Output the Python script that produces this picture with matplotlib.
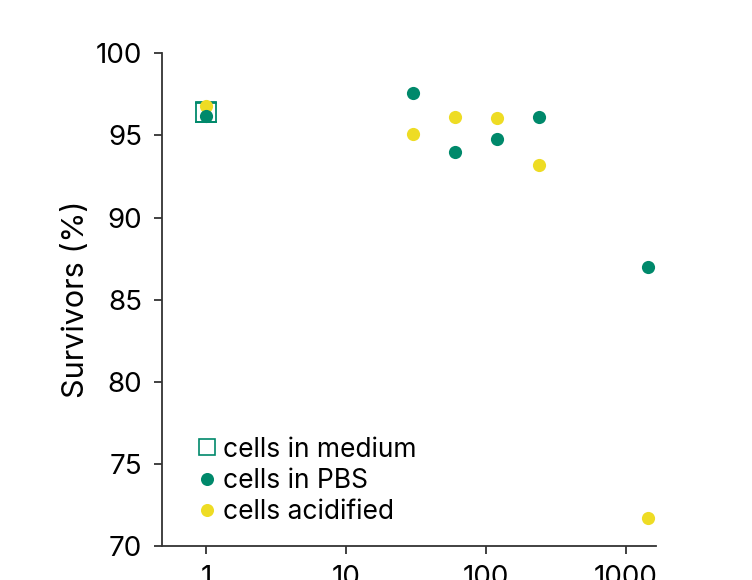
import numpy as np
import matplotlib.pyplot as plt
from matplotlib.lines import Line2D

plt.rcParams['font.family'] = ['Inter', 'DejaVu Sans']

# values
medium_time = [1]
medium_surv = [96.4]
medium_err = [0.6]

pbs_time = [1, 30, 60, 120, 240, 1440]
pbs_surv = [96.2, 97.6, 94.0, 94.8, 96.1, 87.0]

acid_time = [1, 30, 60, 120, 240, 1440]
acid_surv = [96.8, 95.1, 96.1, 96.05, 93.2, 71.7]

green = '#00896b'
yellow = '#eedc24'

fig = plt.figure(figsize=(7.52, 5.8), dpi=100)
ax = fig.add_axes([0.215, 0.0586, 0.658, 0.8494])

ax.errorbar(medium_time, medium_surv, yerr=medium_err, fmt='s', ms=14,
            mfc='none', mec=green, mew=1.3, ecolor=green, elinewidth=1.2,
            capsize=8, capthick=1.2, zorder=2)
ax.scatter(pbs_time, pbs_surv, s=90, color=green, lw=0, zorder=4)
ax.scatter(acid_time, acid_surv, s=90, color=yellow, lw=0, zorder=3)

ax.set_xscale('log')
ax.set_xlim(0.48, 1650)
ax.set_ylim(70, 100)
ax.set_xticks([1, 10, 100, 1000])
ax.set_xticklabels(['1', '10', '100', '1000'])
ax.minorticks_off()
ax.set_yticks([70, 75, 80, 85, 90, 95, 100])

for s in ['top', 'right']:
    ax.spines[s].set_visible(False)
for s in ['left', 'bottom']:
    ax.spines[s].set_color('#333333')
    ax.spines[s].set_linewidth(1.3)
ax.tick_params(axis='both', direction='out', length=6, width=1.3,
               color='#333333', labelsize=20, pad=8)

ax.set_ylabel('Survivors (%)', fontsize=22, labelpad=4)

handles = [
    Line2D([], [], ls='none', marker='s', ms=11, mfc='none', mec=green, mew=1.2),
    Line2D([], [], ls='none', marker='o', ms=9.4, color=green, mew=0),
    Line2D([], [], ls='none', marker='o', ms=9.4, color=yellow, mew=0),
]
labels = ['cells in medium', 'cells in PBS', 'cells acidified']
ax.legend(handles, labels, loc='lower left', bbox_to_anchor=(0.047, 0.021),
          frameon=False, fontsize=19, handletextpad=0.15, labelspacing=0.2,
          handlelength=0.9, borderaxespad=0)

fig.savefig('out.png', dpi=100)
